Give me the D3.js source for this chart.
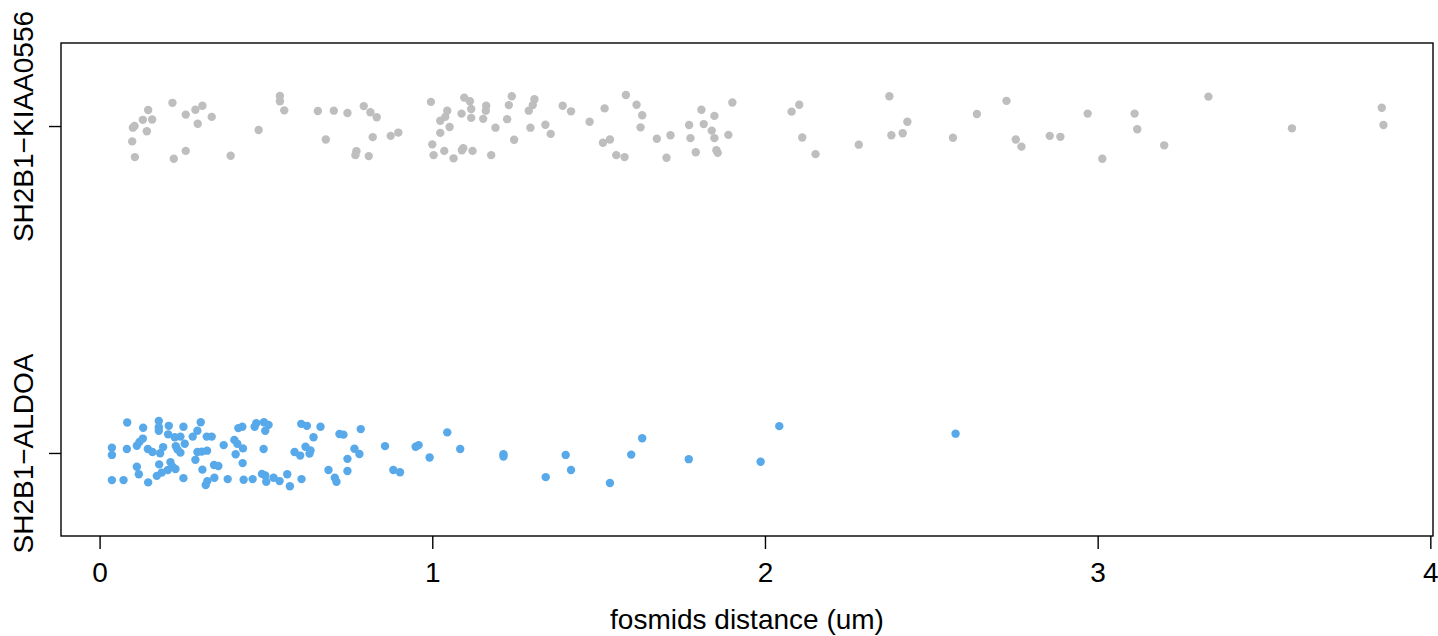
<!DOCTYPE html>
<html>
<head>
<meta charset="utf-8">
<script src="https://cdn.jsdelivr.net/npm/d3@7"></script>
<style>
  html, body { margin: 0; padding: 0; background: #fff; }
  svg { display: block; }
  text { font-family: "Liberation Sans", Arial, Helvetica, sans-serif; fill: #000; }
</style>
</head>
<body>
<svg id="chart" width="1438" height="636"></svg>
<script>
// Groups (bottom to top) and their point colours
const groups = ["SH2B1\u2212ALDOA", "SH2B1\u2212KIAA0556"];
const groupColors = ["#58a9ea", "#bebebe"];

// SH2B1-KIAA0556 distances (um) and vertical jitter (group units)
const kiaaDistance = [
  0.105, 0.100, 0.130, 0.146, 0.158, 0.142, 0.098, 0.106, 0.219, 0.259,
  0.288, 0.309, 0.337, 0.295, 0.259, 0.223, 0.394, 0.478, 0.542, 0.542,
  0.555, 0.656, 0.704, 0.745, 0.794, 0.814, 0.833, 0.680, 0.821, 0.875,
  0.898, 0.772, 0.769, 0.809, 0.996, 1.045, 1.039, 1.024, 1.052, 1.024,
  1.000, 1.004, 1.036, 1.064, 1.089, 1.093, 1.121, 1.096, 1.113, 1.117,
  1.088, 1.117, 1.153, 1.162, 1.161, 1.190, 1.177, 1.239, 1.230, 1.225,
  1.246, 1.307, 1.302, 1.290, 1.295, 1.340, 1.356, 1.392, 1.417, 1.473,
  1.518, 1.513, 1.534, 1.553, 1.578, 1.582, 1.614, 1.631, 1.626, 1.675,
  1.716, 1.704, 1.772, 1.776, 1.809, 1.816, 1.848, 1.840, 1.848, 1.792,
  1.854, 1.858, 1.890, 1.902, 2.103, 2.080, 2.112, 2.152, 2.282, 2.374,
  2.428, 2.380, 2.414, 2.565, 2.637, 2.726, 2.754, 2.771, 2.856, 2.888,
  2.970, 3.014, 3.111, 3.119, 3.200, 3.333, 3.584, 3.854, 3.859
];
const kiaaJitter = [
  0.000, -0.005, 0.019, 0.049, 0.020, -0.016, -0.047, -0.095, 0.071, 0.035,
  0.050, 0.062, 0.028, 0.007, -0.076, -0.100, -0.091, -0.012, 0.092, 0.076,
  0.048, 0.046, 0.047, 0.040, 0.061, 0.042, 0.027, -0.041, -0.034, -0.030,
  -0.020, -0.077, -0.089, -0.092, 0.074, 0.047, 0.028, 0.016, -0.003, -0.021,
  -0.056, -0.089, -0.076, -0.099, -0.074, -0.068, -0.076, 0.087, 0.076, 0.052,
  0.038, 0.025, 0.022, 0.062, 0.047, -0.005, -0.089, 0.091, 0.064, 0.021,
  -0.042, 0.082, 0.064, 0.047, -0.005, 0.004, -0.024, 0.062, 0.045, 0.013,
  0.054, -0.051, -0.041, -0.089, -0.095, 0.095, 0.065, 0.033, -0.004, -0.039,
  -0.028, -0.097, 0.003, -0.037, 0.050, 0.006, 0.031, -0.014, -0.037, -0.080,
  -0.074, -0.082, -0.027, 0.072, 0.065, 0.044, -0.035, -0.086, -0.057, 0.091,
  0.013, -0.028, -0.022, -0.036, 0.037, 0.077, -0.041, -0.063, -0.030, -0.033,
  0.038, -0.100, 0.038, -0.010, -0.059, 0.090, -0.007, 0.056, 0.003
];

// SH2B1-ALDOA distances (um) and vertical jitter (group units)
const aldoaDistance = [
  0.083, 0.131, 0.178, 0.178, 0.178, 0.208, 0.252, 0.304, 0.294, 0.280,
  0.206, 0.130, 0.120, 0.112, 0.037, 0.037, 0.082, 0.145, 0.159, 0.182,
  0.191, 0.226, 0.243, 0.256, 0.229, 0.234, 0.243, 0.294, 0.307, 0.323,
  0.288, 0.322, 0.337, 0.373, 0.405, 0.414, 0.431, 0.409, 0.430, 0.417,
  0.429, 0.466, 0.471, 0.494, 0.508, 0.498, 0.493, 0.179, 0.213, 0.219,
  0.228, 0.205, 0.187, 0.172, 0.112, 0.118, 0.037, 0.072, 0.146, 0.252,
  0.309, 0.344, 0.357, 0.345, 0.324, 0.319, 0.385, 0.433, 0.460, 0.488,
  0.498, 0.501, 0.523, 0.541, 0.564, 0.572, 0.606, 0.623, 0.664, 0.643,
  0.721, 0.733, 0.785, 0.619, 0.586, 0.603, 0.631, 0.634, 0.766, 0.781,
  0.745, 0.688, 0.745, 0.707, 0.712, 0.607, 0.858, 0.950, 0.959, 0.992,
  1.045, 1.084, 0.883, 0.903, 1.214, 1.214, 1.401, 1.341, 1.417, 1.534,
  1.598, 1.631, 1.771, 1.987, 2.043, 2.573
];
const aldoaJitter = [
  0.093, 0.077, 0.098, 0.079, 0.068, 0.083, 0.080, 0.094, 0.068, 0.050,
  0.057, 0.044, 0.034, 0.022, 0.016, -0.006, 0.012, 0.012, 0.003, -0.001,
  0.018, 0.048, 0.050, 0.028, 0.021, 0.011, 0.001, 0.003, 0.004, 0.007,
  -0.021, 0.050, 0.050, 0.024, 0.040, 0.028, 0.014, -0.004, -0.031, 0.076,
  0.080, 0.080, 0.091, 0.094, 0.086, 0.068, 0.012, -0.035, -0.028, -0.042,
  -0.049, -0.052, -0.060, -0.070, -0.042, -0.065, -0.083, -0.083, -0.090, -0.077,
  -0.051, -0.037, -0.040, -0.076, -0.086, -0.098, -0.080, -0.082, -0.080, -0.064,
  -0.069, -0.088, -0.076, -0.086, -0.065, -0.102, 0.089, 0.083, 0.080, 0.048,
  0.058, 0.056, 0.073, 0.019, 0.003, -0.008, -0.002, 0.008, 0.013, -0.003,
  -0.018, -0.052, -0.055, -0.076, -0.088, -0.080, 0.021, 0.019, 0.024, -0.014,
  0.063, 0.012, -0.052, -0.059, -0.004, -0.011, -0.006, -0.074, -0.052, -0.092,
  -0.005, 0.045, -0.019, -0.027, 0.082, 0.059
];

// Axis tick values
const xTicks = [0, 1, 2, 3, 4];
const xTitle = "fosmids distance (um)";

const fontSize = 28;
const svg = d3.select("#chart");
const box = { left: 61, right: 1433, top: 43, bottom: 536 };

const x = d3.scaleLinear().domain([-0.116, 4.008]).range([box.left, box.right]);
const y = d3.scaleLinear().domain([0.746, 2.254]).range([box.bottom, box.top]);

// Build point table: group 1 = ALDOA, group 2 = KIAA0556
const points = [];
aldoaDistance.forEach((d, i) => points.push({ g: 0, v: d, j: aldoaJitter[i] }));
kiaaDistance.forEach((d, i) => points.push({ g: 1, v: d, j: kiaaJitter[i] }));

// Points
svg.append("g")
  .selectAll("circle")
  .data(points)
  .join("circle")
  .attr("cx", d => x(d.v))
  .attr("cy", d => y(d.g + 1 + d.j))
  .attr("r", 4.2)
  .attr("fill", d => groupColors[d.g]);

// Plot frame
svg.append("rect")
  .attr("x", box.left).attr("y", box.top)
  .attr("width", box.right - box.left).attr("height", box.bottom - box.top)
  .attr("fill", "none").attr("stroke", "#000").attr("stroke-width", 1.4);

// X axis
const xAxis = svg.append("g")
  .attr("transform", `translate(0,${box.bottom})`)
  .call(d3.axisBottom(x).tickValues(xTicks).tickFormat(d3.format("d")).tickSize(13).tickPadding(13));
xAxis.select(".domain").remove();
xAxis.selectAll("line").attr("stroke", "#000").attr("stroke-width", 1.4);
xAxis.selectAll("text")
  .attr("font-size", fontSize)
  .attr("font-family", "Liberation Sans, Arial, sans-serif")
  .attr("fill", "#000");

// Y axis (group labels, rotated)
const yAxis = svg.append("g")
  .attr("transform", `translate(${box.left},0)`)
  .call(d3.axisLeft(y).tickValues([1, 2]).tickFormat(d => groups[d - 1]).tickSize(12).tickPadding(0));
yAxis.select(".domain").remove();
yAxis.selectAll("line").attr("stroke", "#000").attr("stroke-width", 1.4);
yAxis.selectAll(".tick text")
  .attr("font-size", fontSize)
  .attr("font-family", "Liberation Sans, Arial, sans-serif")
  .attr("fill", "#000")
  .attr("text-anchor", "middle")
  .attr("x", 0)
  .attr("y", 0)
  .attr("dy", 0)
  .attr("transform", `translate(${33 - box.left},0) rotate(-90)`);

// X axis title, centred on the plot region
svg.append("text")
  .attr("x", (box.left + box.right) / 2)
  .attr("y", 629)
  .attr("text-anchor", "middle")
  .attr("font-size", fontSize)
  .text(xTitle);
</script>
</body>
</html>
